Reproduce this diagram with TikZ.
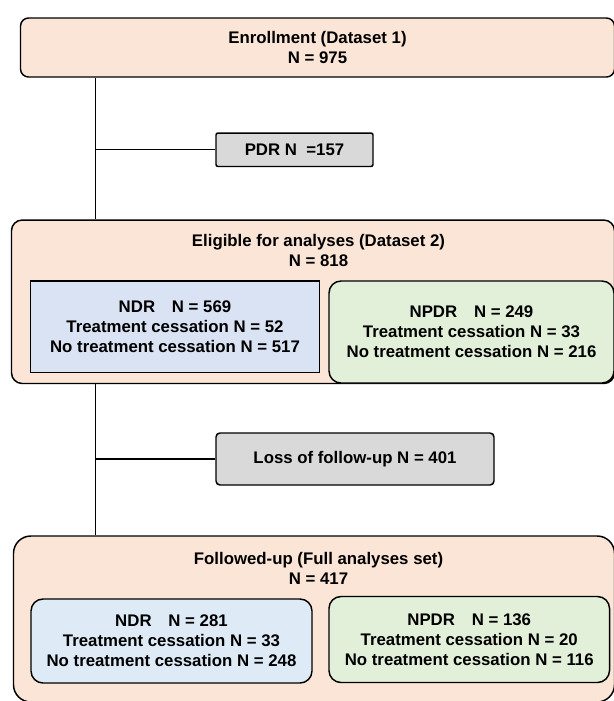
\documentclass[tikz,border=0pt]{standalone}
\usepackage{fontspec}
\setmainfont{Liberation Sans}

\definecolor{peach}{HTML}{FBE5D6}
\definecolor{ndrblue}{HTML}{DAE3F3}
\definecolor{ndrlight}{HTML}{DEEBF7}
\definecolor{npdrgreen}{HTML}{E2F0D9}
\definecolor{exclgray}{HTML}{D9D9D9}

\begin{document}
\begin{tikzpicture}[x=0.75pt,y=-0.75pt,
    every node/.style={font=\fontsize{12.6}{15}\selectfont\bfseries,align=center,inner sep=0pt},
    stage/.style={draw,line width=1.1pt,fill=peach},
    group/.style={draw,line width=1.1pt,rounded corners=9pt},
    excl/.style={draw,line width=1.1pt,fill=exclgray},
    link/.style={line width=1.1pt}]
    \useasboundingbox (0,0) rectangle (614,701);
    \clip (0,0) rectangle (614,701);

    % Enrollment and exclusion
    \node[stage,rounded corners=6pt,minimum width=445.5pt,minimum height=44.25pt] (enroll) at (317.5,47.5)
        {Enrollment (Dataset 1)\\N = 975};
    \node[excl,rounded corners=1.5pt,minimum width=117.75pt,minimum height=25.1pt] (pdr) at (294.5,149.75)
        {PDR N \ =157};

    % Eligible set
    \node[stage,rounded corners=8pt,minimum width=452.25pt,minimum height=122.6pt] (elig) at (313,301.75) {};
    \node (eligT) at (318.5,250.5) {Eligible for analyses (Dataset 2)\\N = 818};
    \node[draw,line width=1.1pt,fill=ndrblue,minimum width=216.75pt,minimum height=68.6pt] (ndr) at (175,326.75)
        {NDR\quad N = 569\\Treatment cessation N = 52\\No treatment cessation N = 517};
    \node[group,fill=npdrgreen,minimum width=213.75pt,minimum height=76.5pt] (npdr) at (471.5,332)
        {NPDR\quad N = 249\\Treatment cessation N = 33\\No treatment cessation N = 216};

    % Loss of follow-up
    \node[excl,rounded corners=3pt,minimum width=208.5pt,minimum height=39pt] (loss) at (355,459)
        {Loss of follow-up N = 401};

    % Full analyses set
    \node[stage,rounded corners=13pt,minimum width=450.75pt,minimum height=124.5pt] (follow) at (314,619) {};
    \node (followT) at (318.5,568.5) {Followed-up (Full analyses set)\\N = 417};
    \node[group,fill=ndrlight,minimum width=210.75pt,minimum height=63pt] (ndrF) at (171.5,641)
        {NDR\quad N = 281\\Treatment cessation N = 33\\No treatment cessation N = 248};
    \node[group,fill=npdrgreen,minimum width=210.4pt,minimum height=64.5pt] (npdrF) at (469.25,639.5)
        {NPDR\quad N = 136\\Treatment cessation N = 20\\No treatment cessation N = 116};

    % Flow lines
    \coordinate (spine) at (95.5,0);
    \draw[link] (spine |- enroll.south) -- (spine |- elig.north);
    \draw[link] (spine |- pdr.west) -- (pdr.west);
    \draw[link] (spine |- elig.south) -- (spine |- follow.north);
    \draw[link] (spine |- loss.west) -- (loss.west);
\end{tikzpicture}
\end{document}
